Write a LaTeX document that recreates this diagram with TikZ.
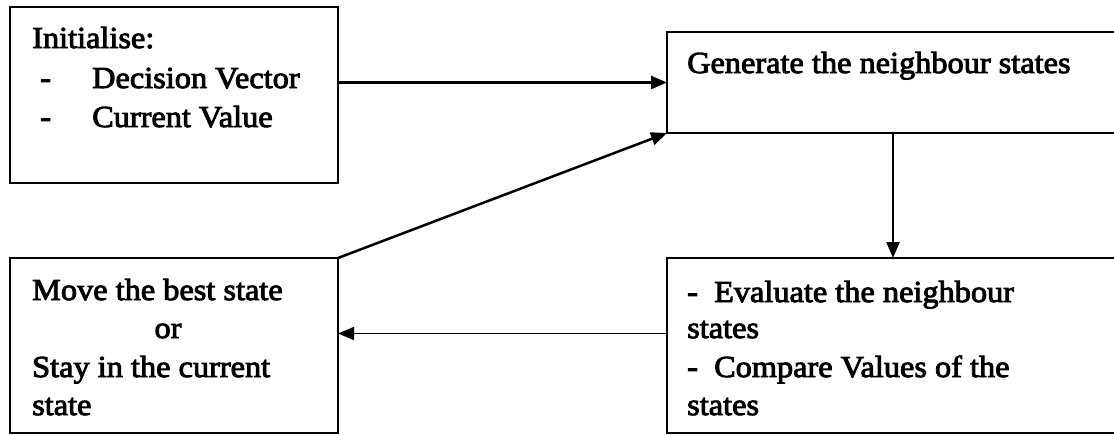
\documentclass[tikz,border=0pt]{standalone}
\usepackage{fontspec}
\setmainfont[FakeStretch=1.06, FakeBold=3]{Liberation Serif}
\usetikzlibrary{arrows.meta}

\begin{document}
\begin{tikzpicture}[
    x=1pt, y=-1pt,
    box/.style = {draw, line width=1.5pt, outer sep=0pt, inner sep=0pt, anchor=north west},
    txt/.style = {anchor=base west, inner sep=0pt, font=\fontsize{30.5}{38}\selectfont},
    link/.style = {line width=2.5pt, -{Triangle[length=16pt, width=13pt]}},
  ]
  \useasboundingbox (0,0) rectangle (1114,434);
  \clip (0,0) rectangle (1114,434);
  \node[box, minimum width=328pt, minimum height=176pt] (init) at (10,7) {};
  \node[box, minimum width=470pt, minimum height=101pt] (gen) at (667,32) {};
  \node[box, minimum width=328pt, minimum height=175pt] (move) at (10,258) {};
  \node[box, minimum width=470pt, minimum height=175pt] (eval) at (667,258) {};
  \node[txt] (initT) at (32,48) {Initialise:};
  \node[txt] (dashA) at (40,88) {-};
  \node[txt] (vec) at (92,88) {Decision Vector};
  \node[txt] (dashB) at (40,127) {-};
  \node[txt] (cur) at (92,127) {Current Value};
  \node[txt] (genT) at (687,73) {Generate the neighbour states};
  \node[txt] (moveA) at (32,300) {Move the best state};
  \node[txt, anchor=base] (moveB) at (168,338) {or};
  \node[txt] (moveC) at (32,377) {Stay in the current};
  \node[txt] (moveD) at (32,415) {state};
  \node[txt] (evalA) at (687,302) {-~~Evaluate the neighbour};
  \node[txt] (evalB) at (687,338) {states};
  \node[txt] (evalC) at (687,377) {-~~Compare Values of the};
  \node[txt] (evalD) at (687,415) {states};
  \draw[link] (init.east |- gen.west) -- (gen.west);
  \draw[link] (move.north east) -- (gen.south west);
  \draw[link] ([xshift=-9pt]gen.south) -- ([xshift=-9pt]gen.south |- eval.north);
  \draw[link, line width=1.5pt] ([yshift=12pt]eval.west) -- ([yshift=12pt]eval.west -| move.east);
\end{tikzpicture}
\end{document}
